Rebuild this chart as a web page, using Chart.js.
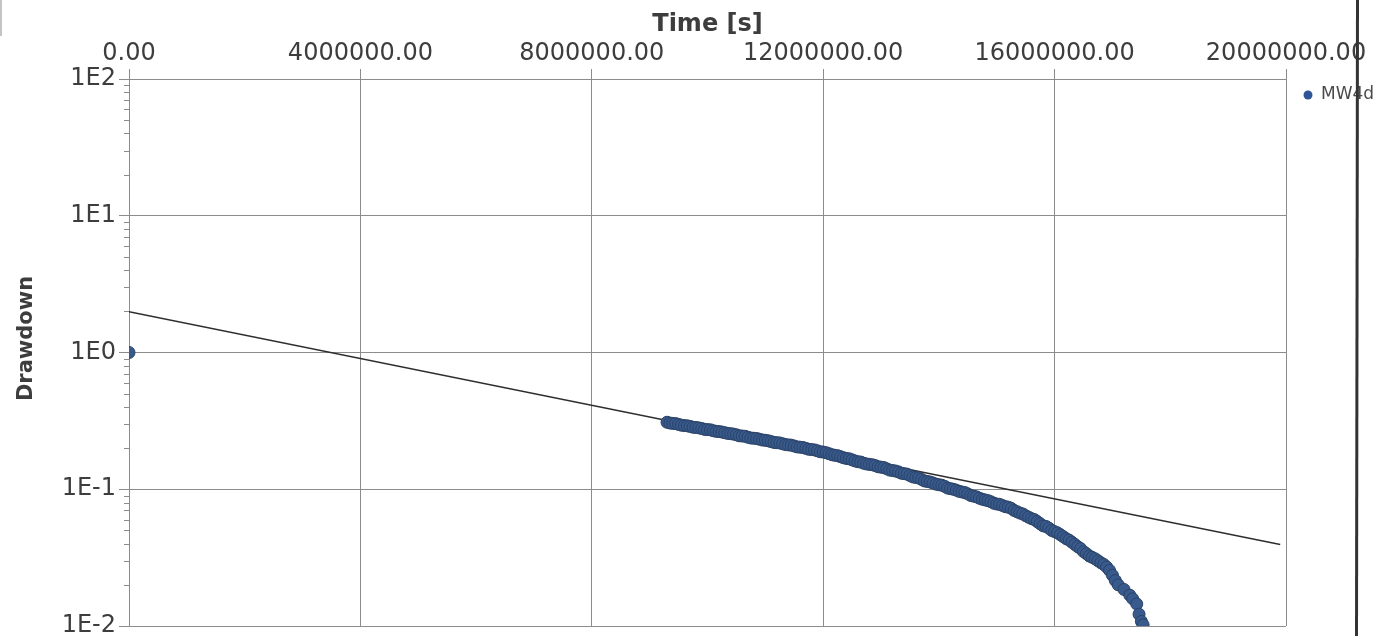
<!DOCTYPE html>
<html>
<head>
<meta charset="utf-8">
<title>MW4d drawdown</title>
<script src="https://cdn.jsdelivr.net/npm/chart.js@4.4.1/dist/chart.umd.min.js"></script>
<style>
  html, body { margin: 0; padding: 0; background: #ffffff; }
  #wrap { position: relative; width: 1377px; height: 636px; }
  canvas { display: block; }
</style>
</head>
<body>
<div id="wrap"><canvas id="chart" width="1377" height="636"></canvas></div>
<script>
// Observed drawdown at well MW4d (time in seconds)
const seriesName = 'MW4d';
const timeSeconds = [
  0,
  9.30e6, 9.35e6, 9.40e6, 9.45e6, 9.50e6, 9.55e6, 9.60e6, 9.65e6, 9.70e6, 9.75e6, 9.80e6, 9.85e6, 9.90e6, 9.95e6,
  10.00e6, 10.05e6, 10.10e6, 10.15e6, 10.20e6, 10.25e6, 10.30e6, 10.35e6, 10.40e6, 10.45e6,
  10.50e6, 10.55e6, 10.60e6, 10.65e6, 10.70e6, 10.75e6, 10.80e6, 10.85e6, 10.90e6, 10.95e6,
  11.00e6, 11.05e6, 11.10e6, 11.15e6, 11.20e6, 11.25e6, 11.30e6, 11.35e6, 11.40e6, 11.45e6,
  11.50e6, 11.55e6, 11.60e6, 11.65e6, 11.70e6, 11.75e6, 11.80e6, 11.85e6, 11.90e6, 11.95e6,
  12.00e6, 12.05e6, 12.10e6, 12.15e6, 12.20e6, 12.25e6, 12.30e6, 12.35e6, 12.40e6, 12.45e6,
  12.50e6, 12.55e6, 12.60e6, 12.65e6, 12.70e6, 12.75e6, 12.80e6, 12.85e6, 12.90e6, 12.95e6,
  13.00e6, 13.05e6, 13.10e6, 13.15e6, 13.20e6, 13.25e6, 13.30e6, 13.35e6, 13.40e6, 13.45e6,
  13.50e6, 13.55e6, 13.60e6, 13.65e6, 13.70e6, 13.75e6, 13.80e6, 13.85e6, 13.90e6, 13.95e6,
  14.00e6, 14.05e6, 14.10e6, 14.15e6, 14.20e6, 14.25e6, 14.30e6, 14.35e6, 14.40e6, 14.45e6,
  14.50e6, 14.55e6, 14.60e6, 14.65e6, 14.70e6, 14.75e6, 14.80e6, 14.85e6, 14.90e6, 14.95e6,
  15.00e6, 15.05e6, 15.10e6, 15.15e6, 15.20e6, 15.25e6, 15.30e6, 15.35e6, 15.40e6, 15.45e6,
  15.50e6, 15.55e6, 15.60e6, 15.65e6, 15.70e6, 15.75e6, 15.80e6, 15.85e6, 15.90e6, 15.95e6,
  16.00e6, 16.05e6, 16.10e6, 16.15e6, 16.20e6, 16.25e6, 16.30e6, 16.35e6, 16.40e6, 16.45e6,
  16.50e6, 16.55e6, 16.60e6, 16.65e6, 16.70e6, 16.75e6, 16.80e6, 16.85e6, 16.90e6, 16.95e6,
  17.00e6, 17.05e6, 17.10e6, 17.20e6, 17.30e6, 17.35e6, 17.42e6, 17.46e6, 17.50e6, 17.53e6
];
const drawdown = [
  1.0,
  0.309, 0.305, 0.303, 0.302, 0.298, 0.294, 0.292, 0.291, 0.288, 0.284, 0.283, 0.281, 0.278, 0.274,
  0.273, 0.272, 0.268, 0.265, 0.264, 0.262, 0.259, 0.256, 0.255, 0.253,
  0.250, 0.246, 0.245, 0.244, 0.240, 0.237, 0.236, 0.235, 0.232, 0.229,
  0.228, 0.226, 0.223, 0.220, 0.219, 0.218, 0.215, 0.212, 0.211, 0.210,
  0.207, 0.204, 0.203, 0.202, 0.199, 0.196, 0.195, 0.194, 0.191, 0.188,
  0.187, 0.185, 0.182, 0.179, 0.177, 0.176, 0.173, 0.170, 0.168, 0.167,
  0.164, 0.161, 0.159, 0.158, 0.155, 0.153, 0.152, 0.151, 0.149, 0.146,
  0.145, 0.144, 0.141, 0.138, 0.137, 0.136, 0.134, 0.131, 0.130, 0.129,
  0.126, 0.123, 0.122, 0.121, 0.118, 0.115, 0.114, 0.113, 0.111, 0.109,
  0.108, 0.107, 0.105, 0.102, 0.101, 0.100, 0.0985, 0.0965, 0.0955, 0.0945,
  0.0925, 0.0900, 0.0890, 0.0880, 0.0860, 0.0845, 0.0835, 0.0825, 0.0810, 0.0790,
  0.0780, 0.0775, 0.0760, 0.0745, 0.0740, 0.0725, 0.0700, 0.0685, 0.0670, 0.0660,
  0.0640, 0.0625, 0.0610, 0.0600, 0.0580, 0.0560, 0.0540, 0.0535, 0.0520, 0.0500,
  0.0490, 0.0480, 0.0465, 0.0450, 0.0435, 0.0425, 0.0410, 0.0395, 0.0380, 0.0368,
  0.0350, 0.0338, 0.0325, 0.0318, 0.0310, 0.0300, 0.0290, 0.0282, 0.0270, 0.0255,
  0.0235, 0.0215, 0.0200, 0.0185, 0.0168, 0.0158, 0.0145, 0.0122, 0.0108, 0.0102
];

// Straight-line (semi-log) fit through the early data
const fitTime = [0, 19900000];
const fitDrawdown = [1.99, 0.0395];

// Axis ranges and decade labels
const timeMin = 0, timeMax = 20000000, timeStep = 4000000;
const decadeValues = [0.01, 0.1, 1, 10, 100];
const decadeLabels = ['1E-2', '1E-1', '1E0', '1E1', '1E2'];
const minorMultipliers = [2, 3, 4, 5, 6, 7, 8, 9];
const yTitle = 'Drawdown';

const FONT = "'DejaVu Sans', Verdana, sans-serif";
const TEXT = '#3d3d3d';
const GRID = '#8c8c8c';
const POINT_FILL = '#385a8c';
const POINT_EDGE = '#2b4368';

const toXY = (xs, ys) => xs.map((x, i) => ({ x: x, y: ys[i] }));

// Short unlabeled ticks at 2..9 x 10^n on the log axis
const minorTicks = {
  id: 'minorTicks',
  afterDraw(chart) {
    const y = chart.scales.y;
    const ctx = chart.ctx;
    ctx.save();
    ctx.strokeStyle = GRID;
    ctx.lineWidth = 1;
    ctx.beginPath();
    for (let d = 0; d < decadeValues.length - 1; d++) {
      for (const m of minorMultipliers) {
        const py = Math.round(y.getPixelForValue(decadeValues[d] * m)) + 0.5;
        ctx.moveTo(y.right - 5, py);
        ctx.lineTo(y.right, py);
      }
    }
    ctx.stroke();
    ctx.restore();
  }
};

// Vertical axis title, set a little above the plot's middle
const sideTitle = {
  id: 'sideTitle',
  afterDraw(chart) {
    const ctx = chart.ctx;
    const area = chart.chartArea;
    ctx.save();
    ctx.translate(27, (area.top + area.bottom) / 2 - 14);
    ctx.rotate(-Math.PI / 2);
    ctx.fillStyle = TEXT;
    ctx.font = 'bold 21px ' + FONT;
    ctx.textAlign = 'center';
    ctx.textBaseline = 'middle';
    ctx.fillText(yTitle, 0, 0);
    ctx.restore();
  }
};

// Single-entry legend to the right of the plot, plus the page frame lines
const sideLegend = {
  id: 'sideLegend',
  afterDraw(chart) {
    const ctx = chart.ctx;
    const ds = chart.data.datasets[0];
    const area = chart.chartArea;
    const lx = area.right + 22, ly = area.top + 16;
    ctx.save();
    ctx.fillStyle = '#2f5597';
    ctx.beginPath();
    ctx.arc(lx, ly, 4.5, 0, Math.PI * 2);
    ctx.fill();
    ctx.fillStyle = '#4a4a4a';
    ctx.font = '17px ' + FONT;
    ctx.textBaseline = 'middle';
    ctx.textAlign = 'left';
    ctx.fillText(ds.label, lx + 13, ly);
    // frame edge on the right
    ctx.strokeStyle = '#333333';
    ctx.lineWidth = 3;
    ctx.beginPath();
    ctx.moveTo(1357.5, 0);
    ctx.lineTo(1356.5, 636);
    ctx.stroke();
    // faint frame edge at top-left
    ctx.strokeStyle = '#c4c4c4';
    ctx.lineWidth = 2;
    ctx.beginPath();
    ctx.moveTo(1, 0);
    ctx.lineTo(1, 36);
    ctx.stroke();
    ctx.restore();
  }
};

const whiteBg = {
  id: 'whiteBg',
  beforeDraw(chart) {
    const ctx = chart.ctx;
    ctx.save();
    ctx.fillStyle = '#ffffff';
    ctx.fillRect(0, 0, chart.width, chart.height);
    ctx.restore();
  }
};

new Chart(document.getElementById('chart'), {
  type: 'scatter',
  data: {
    datasets: [
      {
        label: seriesName,
        data: toXY(timeSeconds, drawdown),
        backgroundColor: POINT_FILL,
        borderColor: POINT_EDGE,
        borderWidth: 1,
        pointRadius: 6,
        pointHoverRadius: 6,
        clip: 0
      },
      {
        label: 'fit',
        type: 'line',
        data: toXY(fitTime, fitDrawdown),
        borderColor: '#2e2e2e',
        borderWidth: 1.5,
        pointRadius: 0,
        fill: false,
        tension: 0
      }
    ]
  },
  options: {
    responsive: false,
    animation: false,
    devicePixelRatio: 1,
    layout: { padding: { left: 0, right: 91, top: 0, bottom: 10 } },
    plugins: {
      legend: { display: false },
      tooltip: { enabled: false }
    },
    scales: {
      x: {
        type: 'linear',
        position: 'top',
        min: timeMin,
        max: timeMax,
        ticks: {
          stepSize: timeStep,
          padding: 1,
          color: TEXT,
          font: { family: FONT, size: 24 },
          maxRotation: 0,
          autoSkip: false,
          callback: v => Number(v).toFixed(2)
        },
        grid: { color: GRID, lineWidth: 1, tickLength: 10, tickColor: GRID },
        border: { display: true, color: GRID, width: 1 },
        title: {
          display: true,
          text: 'Time [s]',
          color: TEXT,
          font: { family: FONT, size: 24, weight: 'bold' },
          padding: { top: 10, bottom: 0 }
        },
        afterFit(scale) {
          scale.height = 79;
          scale.paddingLeft = 0;
          scale.paddingRight = 0;
        }
      },
      y: {
        type: 'logarithmic',
        position: 'left',
        min: decadeValues[0],
        max: decadeValues[decadeValues.length - 1],
        afterBuildTicks(scale) {
          scale.ticks = decadeValues.map(v => ({ value: v, major: true }));
        },
        ticks: {
          padding: 3,
          color: TEXT,
          font: { family: FONT, size: 24 },
          autoSkip: false,
          callback: v => {
            const i = decadeValues.findIndex(d => Math.abs(d - v) / d < 1e-6);
            return i >= 0 ? decadeLabels[i] : '';
          }
        },
        grid: { color: GRID, lineWidth: 1, tickLength: 10, tickColor: GRID },
        border: { display: true, color: GRID, width: 1 },
        title: { display: false },
        afterFit(scale) {
          scale.width = 129;
          scale.paddingTop = 0;
          scale.paddingBottom = 0;
        }
      }
    }
  },
  plugins: [whiteBg, minorTicks, sideTitle, sideLegend]
});
</script>
</body>
</html>
